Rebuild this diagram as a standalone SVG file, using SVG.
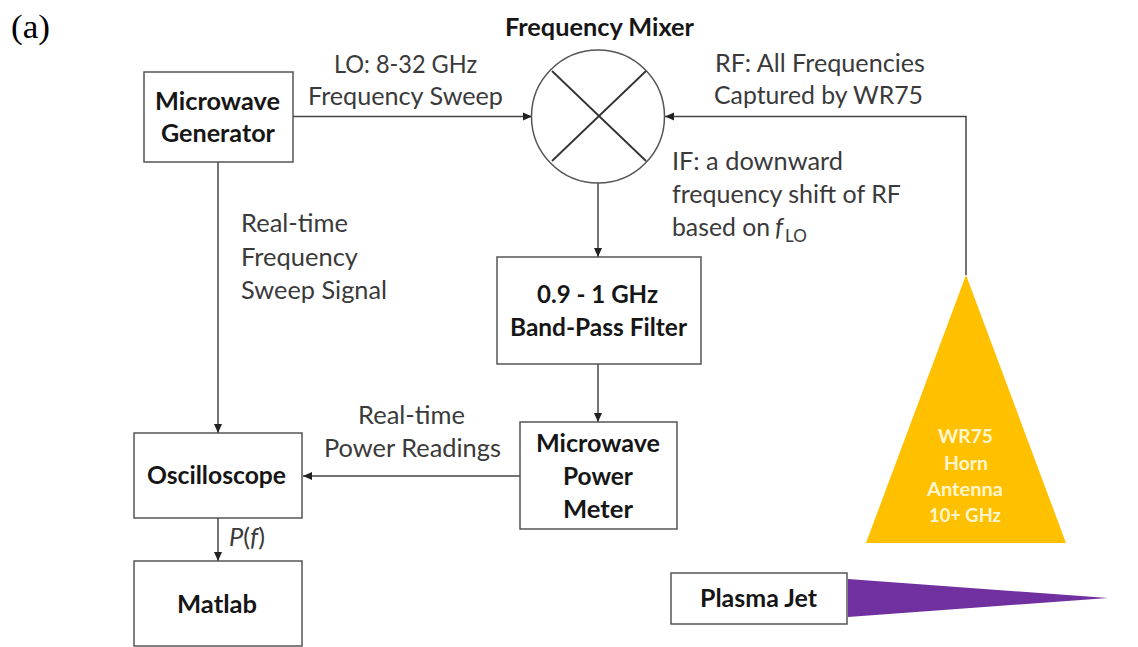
<svg xmlns="http://www.w3.org/2000/svg" width="1138" height="647" viewBox="0 0 1138 647">
<style>
text{font-family:"Lato","Open Sans","Liberation Sans",sans-serif;fill:#3a3a3a;font-size:25px}
.b{font-weight:700;fill:#161616;font-size:25px}
.w{font-weight:700;fill:#fff6d0;font-size:18px}
.box{fill:#fff;stroke:#555;stroke-width:1.5}
.c{fill:none;stroke:#444;stroke-width:1.5;marker-end:url(#a)}
</style>
<defs><marker id="a" markerUnits="userSpaceOnUse" markerWidth="10" markerHeight="10" refX="9" refY="5" orient="auto"><path d="M0 1 L9 5 L0 9Z" fill="#222"/></marker></defs>
<rect width="1138" height="647" fill="#fff"/>
<text x="11" y="38" style="font-family:'Liberation Serif',serif;font-size:33px;fill:#000" textLength="39" lengthAdjust="spacingAndGlyphs">(a)</text>
<g id="connectors">
<path class="c" d="M293 116.500H532"/>
<path class="c" d="M966 275V116.500H665"/>
<path class="c" d="M598 183V257"/>
<path class="c" d="M218 162V433"/>
<path class="c" d="M598 364V422"/>
<path class="c" d="M520 476H303"/>
<path class="c" d="M218 518V561"/>
</g>
<g id="microwave-generator"><rect class="box" x="144" y="72" width="149" height="90"/><text class="b" x="155" y="110" textLength="125" lengthAdjust="spacingAndGlyphs">Microwave</text><text class="b" x="161" y="142" textLength="114" lengthAdjust="spacingAndGlyphs">Generator</text></g>
<g id="frequency-mixer"><circle cx="598" cy="116.500" r="66.500" fill="#fff" stroke="#555" stroke-width="1.5"/><path d="M552 71L646 161M646 71L552 161" stroke="#333" stroke-width="1.8"/><text class="b" x="505" y="36" textLength="189" lengthAdjust="spacingAndGlyphs">Frequency Mixer</text></g>
<g id="band-pass-filter"><rect class="box" x="497" y="257" width="204" height="107"/><text class="b" x="537" y="303" textLength="121" lengthAdjust="spacingAndGlyphs">0.9 - 1 GHz</text><text class="b" x="510" y="336" textLength="177" lengthAdjust="spacingAndGlyphs">Band-Pass Filter</text></g>
<g id="power-meter"><rect class="box" x="520" y="422" width="157" height="107"/><text class="b" x="536" y="452" textLength="124" lengthAdjust="spacingAndGlyphs">Microwave</text><text class="b" x="563" y="485" textLength="70" lengthAdjust="spacingAndGlyphs">Power</text><text class="b" x="563" y="518" textLength="70" lengthAdjust="spacingAndGlyphs">Meter</text></g>
<g id="oscilloscope"><rect class="box" x="134" y="433" width="168" height="85"/><text class="b" x="147" y="484" textLength="139" lengthAdjust="spacingAndGlyphs">Oscilloscope</text></g>
<g id="matlab"><rect class="box" x="134" y="561" width="168" height="85"/><text class="b" x="177" y="613" textLength="80" lengthAdjust="spacingAndGlyphs">Matlab</text></g>
<g id="horn-antenna"><path d="M966 275L1066 543H866Z" fill="#ffc000"/><text class="w" x="938" y="443" textLength="55" lengthAdjust="spacingAndGlyphs">WR75</text><text class="w" x="944" y="470" textLength="44" lengthAdjust="spacingAndGlyphs">Horn</text><text class="w" x="927" y="496" textLength="76" lengthAdjust="spacingAndGlyphs">Antenna</text><text class="w" x="929" y="522" textLength="72" lengthAdjust="spacingAndGlyphs">10+ GHz</text></g>
<g id="plasma-jet"><rect class="box" x="671" y="573" width="176" height="51"/><text class="b" x="700" y="607" textLength="117" lengthAdjust="spacingAndGlyphs">Plasma Jet</text><path d="M848 579L1108 598L848 617Z" fill="#7030a0"/></g>
<g id="labels">
<text x="334" y="73" textLength="143" lengthAdjust="spacingAndGlyphs">LO: 8-32 GHz</text><text x="308" y="105" textLength="195" lengthAdjust="spacingAndGlyphs">Frequency Sweep</text>
<text x="715" y="72" textLength="210" lengthAdjust="spacingAndGlyphs">RF: All Frequencies</text><text x="714" y="104" textLength="209" lengthAdjust="spacingAndGlyphs">Captured by WR75</text>
<text x="672" y="170" textLength="171" lengthAdjust="spacingAndGlyphs">IF: a downward</text><text x="672" y="203" textLength="229" lengthAdjust="spacingAndGlyphs">frequency shift of RF</text><text x="672" y="236" textLength="98" lengthAdjust="spacingAndGlyphs">based on</text><text x="775" y="236" font-style="italic">f</text><text x="785" y="242" style="font-size:17px">LO</text>
<text x="241" y="232" textLength="107" lengthAdjust="spacingAndGlyphs">Real-time</text><text x="241" y="266" textLength="117" lengthAdjust="spacingAndGlyphs">Frequency</text><text x="241" y="299" textLength="146" lengthAdjust="spacingAndGlyphs">Sweep Signal</text>
<text x="358" y="424" textLength="107" lengthAdjust="spacingAndGlyphs">Real-time</text><text x="324" y="457" textLength="177" lengthAdjust="spacingAndGlyphs">Power Readings</text>
<text x="229" y="546" textLength="36" lengthAdjust="spacingAndGlyphs"><tspan font-style="italic">P</tspan>(<tspan font-style="italic">f</tspan>)</text>
</g>
</svg>
